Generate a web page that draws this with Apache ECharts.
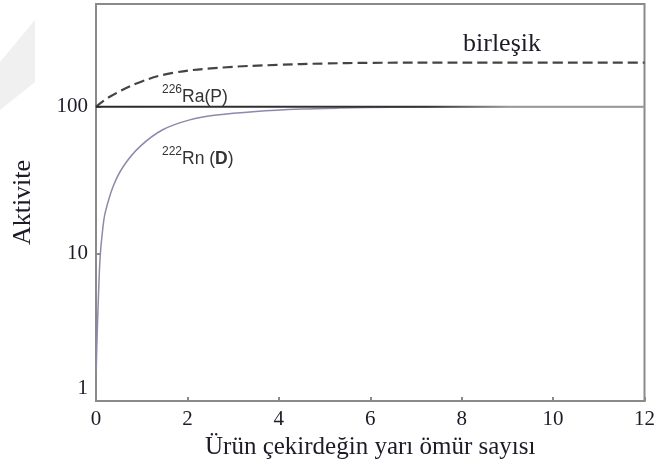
<!DOCTYPE html>
<html>
<head>
<meta charset="utf-8">
<script src="https://cdn.jsdelivr.net/npm/echarts@6/dist/echarts.min.js"></script>
<style>
html,body{margin:0;padding:0;background:#fff;}
#chart{width:658px;height:465px;}
</style>
</head>
<body>
<div id="chart"></div>
<script>
// Data
var xTicks = [0, 2, 4, 6, 8, 10, 12];
var yTicks = [1, 10, 100];

var rnT   = [0.005, 0.02, 0.05, 0.09, 0.15, 0.2, 0.37, 0.59, 0.96, 1.46, 2.05, 2.64, 3.5, 4.5, 5.3, 6.5, 8, 12];
var rnVal = [1.6, 2.5, 4.8, 9.5, 15, 19, 28.5, 39, 53.6, 69.8, 81.5, 88, 93, 96.5, 98, 99.5, 100, 100];

var raT   = [0, 12];
var raVal = [100, 100];

var sumT   = [0, 0.3, 0.96, 1.68, 2.78, 4, 5, 6, 8, 12];
var sumVal = [100, 117, 147, 170, 185, 193, 197, 199, 200, 200];

function pairs(xs, ys){ return xs.map(function(x,i){ return [x, ys[i]]; }); }

var serif = '"Liberation Serif","DejaVu Serif",serif';
var sans = '"Liberation Sans",Arial,sans-serif';
var ink = '#1c1c28';

var chart = echarts.init(document.getElementById('chart'));
chart.setOption({
  animation: false,
  backgroundColor: '#fff',
  grid: { left: 96, right: 11, top: 4, bottom: 64, show: true, borderColor: '#8a8a8a', borderWidth: 2 },
  xAxis: {
    type: 'value', min: 0, max: 12, interval: 2,
    name: 'Ürün çekirdeğin yarı ömür sayısı',
    nameLocation: 'middle', nameGap: 31,
    nameTextStyle: { fontFamily: serif, fontSize: 25, color: ink },
    axisLine: { show: true, lineStyle: { color: '#8a8a8a', width: 2 } },
    axisTick: { show: true, inside: true, length: 4, lineStyle: { color: '#8a8a8a', width: 2 } },
    axisLabel: { fontFamily: serif, fontSize: 21, color: ink, margin: 8,
      formatter: function(v){ return xTicks.indexOf(v) >= 0 ? String(v) : ''; } },
    splitLine: { show: false }
  },
  yAxis: {
    type: 'log', logBase: 10, min: 1, max: 500,
    name: 'Aktivite', nameLocation: 'middle', nameGap: 60,
    nameTextStyle: { fontFamily: serif, fontSize: 26, color: ink },
    axisLine: { show: true, lineStyle: { color: '#8a8a8a', width: 2 } },
    axisTick: { show: true, inside: true, length: 5, lineStyle: { color: '#8a8a8a', width: 2 } },
    axisLabel: { fontFamily: serif, fontSize: 21, color: ink, margin: 8, showMaxLabel: false,
      formatter: function(v){
        if (Math.abs(v - 1) < 1e-9) return '{lo|1}';
        for (var i = 0; i < yTicks.length; i++) if (Math.abs(v - yTicks[i]) < 1e-6) return String(yTicks[i]);
        return '';
      },
      rich: { lo: { fontFamily: serif, fontSize: 21, color: ink, padding: [0, 0, 26, 0] } } },
    splitLine: { show: false }
  },
  series: [
    { type: 'line', name: 'birleşik', data: pairs(sumT, sumVal), symbol: 'none', smooth: 0.4,
      lineStyle: { color: '#444', width: 2.2, type: [10, 5] }, z: 3 },
    { type: 'line', name: '226Ra(P)', data: pairs(raT, raVal), symbol: 'none',
      lineStyle: { width: 2, color: { type: 'linear', x: 0, y: 0, x2: 1, y2: 0,
        colorStops: [{ offset: 0, color: '#2a2a2a' }, { offset: 0.6, color: '#333' }, { offset: 0.75, color: '#9a9a9a' }, { offset: 1, color: '#9a9a9a' }] } }, z: 4 },
    { type: 'line', name: '222Rn(D)', data: pairs(rnT, rnVal), symbol: 'none', smooth: 0.3,
      lineStyle: { color: '#8a8aaa', width: 1.5 }, z: 2 }
  ],
  graphic: [
    { type: 'polygon', shape: { points: [[0, 62], [35, 20], [35, 82], [0, 110]] },
      style: { fill: '#f0f0f0' }, z: -10 },
    { type: 'text', left: 463, top: 31,
      style: { text: 'birleşik', font: '26px ' + serif, fill: ink } },
    { type: 'text', left: 162, top: 84,
      style: { text: '{s|226}{n|Ra(P)}', rich: {
        s: { fontFamily: sans, fontSize: 12, fill: '#333', verticalAlign: 'top', lineHeight: 22 },
        n: { fontFamily: sans, fontSize: 17.5, fill: '#333', verticalAlign: 'bottom', lineHeight: 22 } } } },
    { type: 'text', left: 162, top: 146,
      style: { text: '{s|222}{n|Rn (}{b|D}{n|)}', rich: {
        s: { fontFamily: sans, fontSize: 12, fill: '#333', verticalAlign: 'top', lineHeight: 22 },
        n: { fontFamily: sans, fontSize: 17.5, fill: '#333', verticalAlign: 'bottom', lineHeight: 22 },
        b: { fontFamily: sans, fontSize: 17.5, fontWeight: 'bold', fill: '#333', verticalAlign: 'bottom', lineHeight: 22 } } } }
  ]
});
</script>
</body>
</html>
